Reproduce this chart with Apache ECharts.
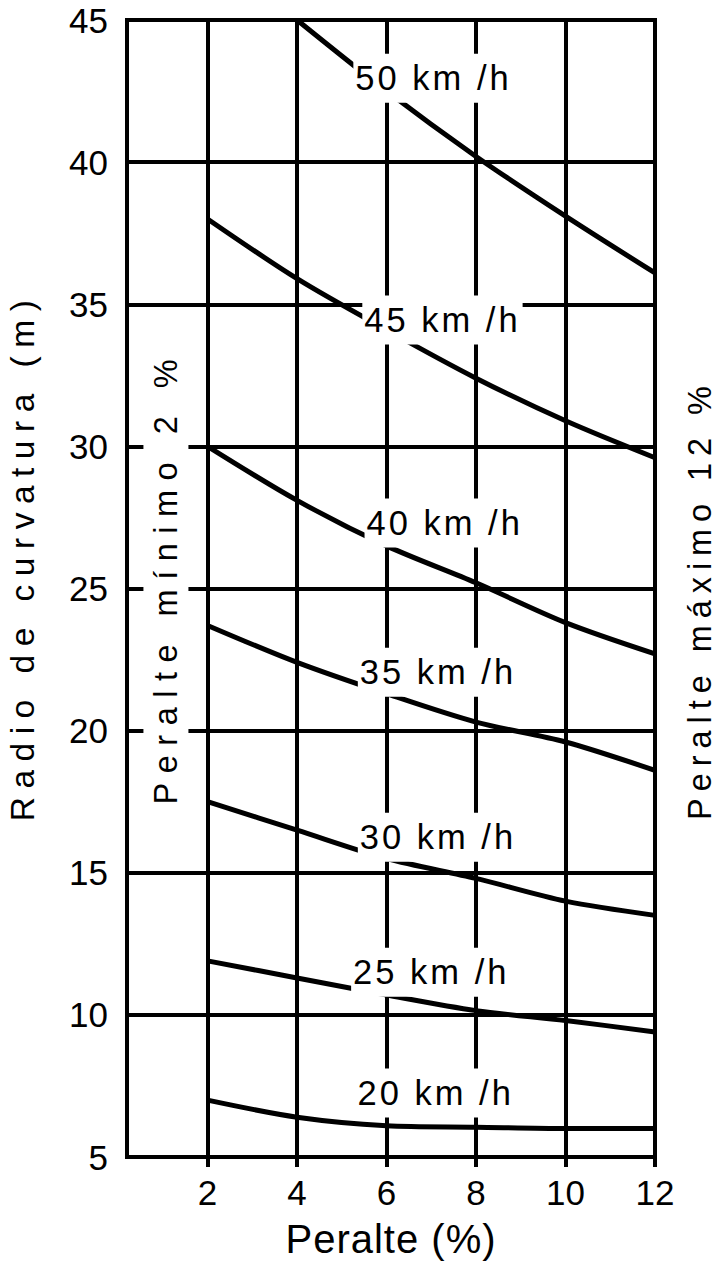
<!DOCTYPE html>
<html>
<head>
<meta charset="utf-8">
<script src="https://cdn.jsdelivr.net/npm/echarts@6/dist/echarts.min.js"></script>
<style>
html,body{margin:0;padding:0;background:#fff;}
#chart{width:719px;height:1265px;}
#chart text { font-family: "Liberation Sans", Arial, Helvetica, sans-serif; }
/* the reference typesetting is letter-spaced */
#chart text[style*="40px"], #chart text[font-size="40"], #chart text[font-size="40px"] { letter-spacing: 1px; }
#chart text[style*="34.5px"], #chart text[font-size="34.5"], #chart text[font-size="34.5px"] { letter-spacing: 3px; }
#chart text[style*="33.5px"], #chart text[font-size="33.5"], #chart text[font-size="33.5px"] { letter-spacing: 8.5px; }
#chart text[style*="32.5px"], #chart text[font-size="32.5"], #chart text[font-size="32.5px"] { letter-spacing: 9.5px; }
#chart text[style*="32.4px"], #chart text[font-size="32.4"], #chart text[font-size="32.4px"] { letter-spacing: 7px; }
</style>
</head>
<body>
<div id="chart"></div>
<script>
// ---- data ----
const peralte = [2, 4, 6, 8, 10, 12];
const radio50 = [null, 45.0, 42.5, 40.2, 38.1, 36.1];
const radio45 = [38.0, 35.9, 34.1, 32.4, 30.9, 29.6];
const radio40 = [30.0, 28.1, 26.5, 25.2, 23.8, 22.7];
const radio35 = [23.7, 22.4, 21.3, 20.3, 19.6, 18.6];
const radio30 = [17.5, 16.5, 15.5, 14.8, 14.0, 13.5];
const radio25 = [11.9, 11.3, 10.7, 10.15, 9.8, 9.4];
const radio20 = [7.0, 6.4, 6.1, 6.05, 6.0, 6.0];
const speedNames = ['50 km /h', '45 km /h', '40 km /h', '35 km /h', '30 km /h', '25 km /h', '20 km /h'];
// label anchors (peralte, radio) for each curve label
const labelX = [7.05, 7.25, 7.3, 7.15, 7.15, 7.0, 7.1];
const labelY = [42.95, 34.45, 27.3, 22.05, 16.25, 11.5, 7.25];
const yTicks = [5, 10, 15, 20, 25, 30, 35, 40, 45];
const xTicks = [2, 4, 6, 8, 10, 12];
const minNote = 'Peralte mínimo 2 %';
const maxNote = 'Peralte máximo 12 %';
const minNoteAt = [1.07, 25.4];

const FONT = 'Liberation Sans, Arial, Helvetica, sans-serif';
const curves = [radio50, radio45, radio40, radio35, radio30, radio25, radio20];

const lineSeries = curves.map((vals, i) => ({
  name: speedNames[i],
  type: 'line',
  smooth: 0.3,
  showSymbol: false,
  symbol: 'none',
  silent: true,
  lineStyle: { color: '#000', width: 5 },
  data: peralte.map((x, k) => vals[k] == null ? null : [x, vals[k]]).filter(d => d)
}));

const labelSeries = {
  type: 'scatter',
  symbolSize: 0,
  silent: true,
  clip: false,
  z: 5,
  itemStyle: { opacity: 1 },
  data: speedNames.map((n, i) => ({ value: [labelX[i], labelY[i]], name: n })),
  label: {
    show: true,
    opacity: 1,
    position: 'inside',
    formatter: p => p.name,
    color: '#000',
    fontFamily: FONT,
    fontSize: 34.5,
    backgroundColor: '#fff',
    padding: [7, 14, 7, 14],
    lineHeight: 35
  }
};

const minNoteSeries = {
  type: 'scatter',
  symbolSize: 0,
  silent: true,
  clip: false,
  z: 5,
  itemStyle: { opacity: 1 },
  data: [{ value: minNoteAt, name: minNote }],
  label: {
    show: true,
    opacity: 1,
    position: 'inside',
    rotate: 90,
    formatter: p => p.name,
    color: '#000',
    fontFamily: FONT,
    fontSize: 32.5,
    backgroundColor: '#fff',
    padding: [6, 84, 6, 84],
    lineHeight: 33
  }
};

const chart = echarts.init(document.getElementById('chart'), null, { renderer: 'svg' });
chart.setOption({
  animation: false,
  backgroundColor: '#fff',
  grid: {
    left: 127, right: 64, top: 20, bottom: 108,
    outerBoundsMode: 'none', containLabel: false,
    show: true, borderColor: '#000', borderWidth: 4
  },
  xAxis: {
    type: 'value',
    min: 0.2,
    max: 12,
    splitNumber: 6,
    name: 'Peralte (%)',
    nameLocation: 'middle',
    nameGap: 62,
    nameTextStyle: { color: '#000', fontFamily: FONT, fontSize: 40 },
    axisLine: { show: true, lineStyle: { color: '#000', width: 4 } },
    axisTick: { show: true, length: 10, inside: false, lineStyle: { color: '#000', width: 4 } },
    axisLabel: {
      color: '#000', fontFamily: FONT, fontSize: 35, margin: 18,
      showMinLabel: false,
      formatter: v => (xTicks.indexOf(Math.round(v * 100) / 100) >= 0 ? String(Math.round(v)) : '')
    },
    splitLine: { show: true, lineStyle: { color: '#000', width: 4 } }
  },
  yAxis: [{
    type: 'value',
    min: yTicks[0],
    max: yTicks[yTicks.length - 1],
    interval: 5,
    name: 'Radio de curvatura (m)',
    nameLocation: 'middle',
    nameGap: 88,
    nameRotate: 90,
    nameTextStyle: { color: '#000', fontFamily: FONT, fontSize: 33.5, padding: [0, 0, 0, 64] },
    axisLine: { show: true, lineStyle: { color: '#000', width: 4 } },
    axisTick: { show: false },
    axisLabel: { color: '#000', fontFamily: FONT, fontSize: 35, margin: 19 },
    splitLine: { show: true, lineStyle: { color: '#000', width: 4 } }
  }, {
    type: 'value',
    position: 'right',
    min: yTicks[0],
    max: yTicks[yTicks.length - 1],
    interval: 5,
    name: maxNote,
    nameLocation: 'middle',
    nameGap: 29,
    nameRotate: 90,
    nameTextStyle: { color: '#000', fontFamily: FONT, fontSize: 32.4, padding: [0, 22, 0, 0] },
    axisLine: { show: false },
    axisTick: { show: false },
    axisLabel: { show: false },
    splitLine: { show: false }
  }],
  series: [...lineSeries, labelSeries, minNoteSeries]
});
</script>
</body>
</html>
